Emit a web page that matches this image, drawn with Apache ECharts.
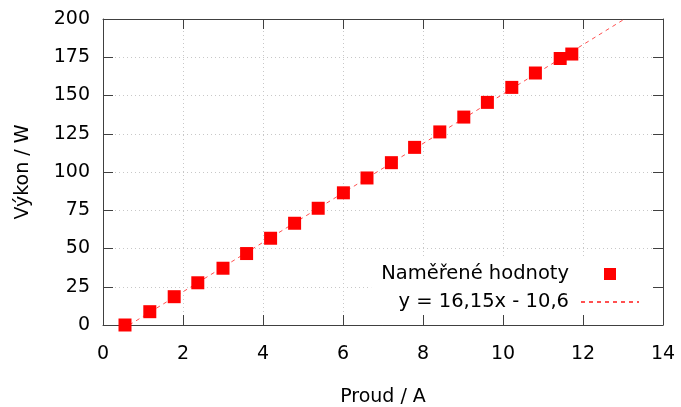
<!DOCTYPE html>
<html>
<head>
<meta charset="utf-8">
<script src="https://cdn.jsdelivr.net/npm/echarts@6/dist/echarts.min.js"></script>
<style>
  html, body { margin: 0; padding: 0; background: #fff; }
  #chart { width: 681px; height: 407px; }
</style>
</head>
<body>
<div id="chart"></div>
<script>
// measured points (current / power)
const proud = [0.55, 1.17, 1.78, 2.37, 3.0, 3.59, 4.19, 4.79, 5.38, 6.01, 6.6, 7.21, 7.79, 8.42, 9.02, 9.61, 10.22, 10.81, 11.43, 11.72];
const vykon = [0, 8.7, 18.5, 27.6, 37.1, 46.7, 56.7, 66.5, 76.3, 86.4, 96.1, 106.1, 116.1, 126.2, 135.9, 145.5, 155.3, 164.7, 174.2, 177.1];
// ends of the fitted line y = 16,15x - 10,6 inside the plot
const fitX = [0.656, 13.04];
const fitY = [0, 200];

const names = ["Naměřené hodnoty", "y = 16,15x - 10,6"];
const font = "DejaVu Sans";
const axisColor = "#404040";

const chart = echarts.init(document.getElementById("chart"));

const baseAxis = {
  axisLine: { show: true, onZero: false, lineStyle: { color: axisColor, width: 1 } },
  axisTick: { show: true, inside: true, length: 10, lineStyle: { color: axisColor } },
};

chart.setOption({
  animation: false,
  textStyle: { fontFamily: font },
  grid: { left: 103, right: 18, top: 19, bottom: 82, containLabel: false, outerBoundsMode: "none" },
  legend: {
    orient: "vertical",
    align: "right",
    right: 29,
    top: 259,
    padding: [5, 12, 3, 10],
    itemGap: 8,
    itemWidth: 58,
    itemHeight: 12,
    backgroundColor: "#fff",
    textStyle: { fontFamily: font, fontSize: 19.5, lineHeight: 20, color: "#000", padding: [0, 7, 0, 0] },
    data: [
      // small square in the middle of the sample box
      { name: names[0], icon: "path://M0,0L0.1,0M58,12L57.9,12M23,0L35,0L35,12L23,12Z" },
      { name: names[1], itemStyle: { opacity: 0 } },
    ],
  },
  xAxis: [
    {
      ...baseAxis,
      type: "value",
      min: 0,
      max: 14,
      interval: 2,
      name: "Proud / A",
      nameLocation: "middle",
      nameGap: 63,
      nameTextStyle: { fontFamily: font, fontSize: 19, color: "#000" },
      axisLabel: { color: "#000", fontSize: 19, margin: 20, fontFamily: font },
      splitLine: { show: true, lineStyle: { color: "#c8c8c8", type: [1, 3] } },
    },
    {
      ...baseAxis,
      type: "value",
      position: "top",
      min: 0,
      max: 14,
      interval: 2,
      axisLabel: { show: false },
      splitLine: { show: false },
    },
  ],
  yAxis: [
    {
      ...baseAxis,
      type: "value",
      min: 0,
      max: 200,
      interval: 25,
      name: "Výkon / W",
      nameLocation: "middle",
      nameGap: 70,
      nameTextStyle: { fontFamily: font, fontSize: 19, color: "#000" },
      axisLabel: { color: "#000", fontSize: 19, margin: 13, fontFamily: font },
      splitLine: { show: true, lineStyle: { color: "#c8c8c8", type: [1, 3] } },
    },
    {
      ...baseAxis,
      type: "value",
      position: "right",
      min: 0,
      max: 200,
      interval: 25,
      axisLabel: { show: false },
      splitLine: { show: false },
    },
  ],
  series: [
    {
      name: names[0],
      type: "scatter",
      symbol: "rect",
      symbolSize: 13,
      itemStyle: { color: "#ff0000", opacity: 1 },
      z: 5,
      data: proud.map((x, i) => [x, vykon[i]]),
    },
    {
      name: names[1],
      type: "line",
      symbol: "none",
      lineStyle: { color: "#ff5050", width: 1, type: [4, 4] },
      itemStyle: { color: "#ff5050" },
      z: 3,
      data: fitX.map((x, i) => [x, fitY[i]]),
    },
  ],
});
</script>
</body>
</html>
